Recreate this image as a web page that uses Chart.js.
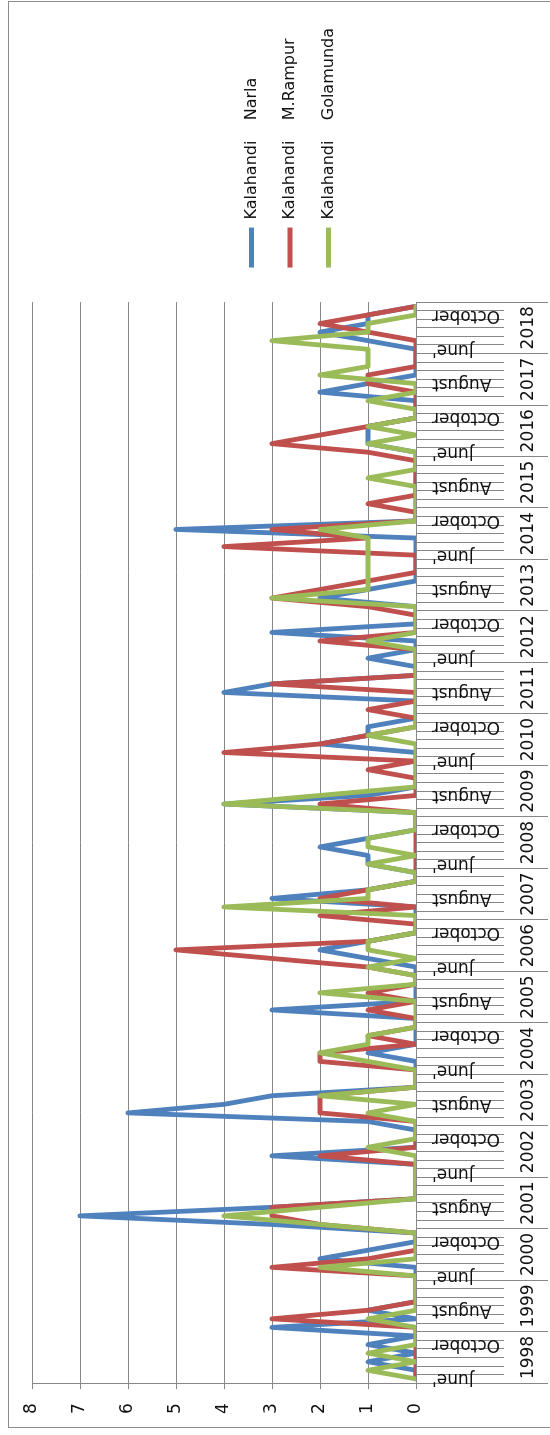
<!DOCTYPE html>
<html>
<head>
<meta charset="utf-8">
<script src="https://cdn.jsdelivr.net/npm/chart.js@4.4.1/dist/chart.umd.min.js"></script>
<style>
  html, body { margin: 0; padding: 0; background: #fff; overflow: hidden; }
  #wrap {
    position: absolute; left: 0; top: 0; width: 1435px; height: 550px;
    transform-origin: 0 0; transform: translate(0, 1435px) rotate(-90deg);
  }
  #frame { position: absolute; left: 7px; top: 8px; width: 1425px; height: 560px; border: 1px solid #8c8c8c; }
  #chart { position: absolute; left: 0; top: 0; }
</style>
</head>
<body>
<div id="wrap">
  <div id="frame"></div>
  <canvas id="chart" width="1435" height="550"></canvas>
</div>
<script>
const years = ['1998', '1999', '2000', '2001', '2002', '2003', '2004', '2005', '2006', '2007',
  '2008', '2009', '2010', '2011', '2012', '2013', '2014', '2015', '2016', '2017', '2018'];
const months = ["June'", 'July', 'August', 'September', 'October', 'November'];

// six months per year, 1998 -> 2018
const narla = [
  0,0,1,0,1,0,  3,0,1,0,0,0,  0,0,2,1,0,0,  3,7,3,0,0,0,  0,0,3,0,0,0,
  1,6,4,3,0,0,  0,0,1,0,0,0,  0,3,0,0,0,0,  0,1,2,1,0,0,  0,0,3,1,0,0,
  1,1,2,1,0,0,  0,4,1,0,0,0,  0,0,2,1,1,0,  0,0,4,3,0,0,  1,0,0,3,0,0,
  0,2,1,0,0,0,  0,0,0,5,0,0,  0,0,0,0,0,0,  0,1,1,1,0,0,  0,2,1,0,0,0,
  0,1,2,1,1,0
];
const rampur = [
  0,0,0,0,0,0,  0,3,1,0,0,0,  0,3,1,0,0,0,  2,3,3,0,0,0,  0,0,2,0,0,0,
  0,2,2,2,0,0,  0,2,2,0,1,0,  0,1,0,1,0,0,  1,3,5,1,0,0,  2,0,2,1,0,0,
  0,0,0,0,0,0,  0,2,0,0,0,1,  0,4,2,1,0,0,  1,0,0,3,0,0,  0,0,2,0,0,0,
  1,3,2,1,0,0,  0,4,1,3,0,0,  1,0,0,0,0,0,  1,3,2,1,0,0,  0,0,1,1,0,0,
  0,0,1,2,1,0
];
const golamunda = [
  0,1,0,1,0,0,  0,1,0,0,0,0,  0,2,0,0,0,0,  2,4,2,0,0,0,  0,0,0,1,0,0,
  0,1,0,2,0,0,  0,1,2,1,1,0,  0,0,0,2,0,0,  1,0,1,1,0,0,  0,4,1,1,0,0,
  1,0,1,1,0,0,  0,4,2,0,0,0,  0,0,0,1,0,0,  0,0,0,0,0,0,  0,0,1,0,0,0,
  0,3,1,1,1,1,  1,1,1,2,0,0,  0,0,0,1,0,0,  0,1,0,1,0,0,  1,0,0,2,1,1,
  1,3,1,1,0,0
];

const categories = years.flatMap(() => months);
const font = 'DejaVu Sans';
const gridColor = '#878787';

function series(label, data, color, order) {
  return {
    label: label, data: data, order: order,
    borderColor: color, backgroundColor: color,
    borderWidth: 4.8, borderJoinStyle: 'round', borderCapStyle: 'round',
    pointRadius: 0, pointHoverRadius: 0, pointBorderWidth: 4.8, pointBorderColor: color,
    tension: 0, fill: false
  };
}

// push the legend a bit away from the plot, like the original
const legendGap = {
  id: 'legendGap',
  afterLayout(chart) {
    chart.legend.left += 12;
    chart.legend.right += 12;
  }
};

new Chart(document.getElementById('chart').getContext('2d'), {
  type: 'line',
  data: {
    labels: categories,
    datasets: [
      series('Kalahandi    Narla', narla, '#4F81BD', 2),
      series('Kalahandi    M.Rampur', rampur, '#C0504D', 1),
      series('Kalahandi    Golamunda', golamunda, '#9BBB59', 0)
    ]
  },
  plugins: [legendGap],
  options: {
    responsive: false,
    animation: false,
    layout: { padding: { left: 7, right: 30, top: 32, bottom: 2 } },
    plugins: {
      legend: {
        position: 'right',
        labels: {
          usePointStyle: true, pointStyle: 'line', pointStyleWidth: 40,
          padding: 22.5, color: '#111',
          font: { family: font, size: 16 },
          sort: (a, b) => a.datasetIndex - b.datasetIndex
        }
      },
      tooltip: { enabled: false }
    },
    scales: {
      x: {
        type: 'category', position: 'bottom', offset: true,
        grid: { offset: true, drawOnChartArea: false, tickLength: 88, color: gridColor },
        border: { display: true, color: gridColor },
        ticks: {
          autoSkip: false, minRotation: 90, maxRotation: 90, padding: -72,
          color: '#111', font: { family: font, size: 17 },
          callback: function (v, i) { return i % 4 === 0 ? this.getLabelForValue(v) : ''; }
        },
        afterFit: (scale) => { scale.height = 88; }
      },
      x2: {
        type: 'category', labels: years, position: 'bottom', offset: true,
        grid: { offset: true, drawOnChartArea: false, tickLength: 44, color: gridColor },
        border: { display: false },
        ticks: { autoSkip: false, maxRotation: 0, padding: -30, color: '#111', font: { family: font, size: 17 } },
        afterFit: (scale) => { scale.height = 44; }
      },
      y: {
        min: 0, max: 8,
        grid: { color: gridColor, tickLength: 6 },
        border: { color: gridColor },
        ticks: { stepSize: 1, padding: 14, color: '#111', font: { family: font, size: 17 } }
      }
    }
  }
});
</script>
</body>
</html>
